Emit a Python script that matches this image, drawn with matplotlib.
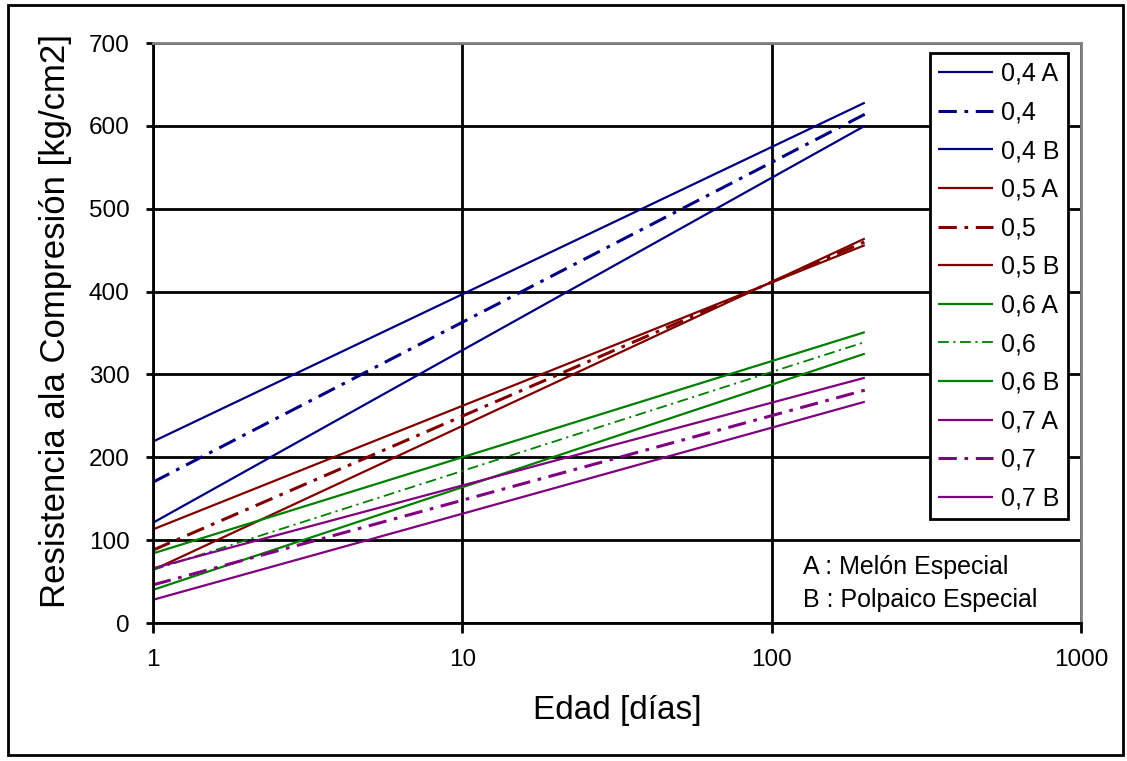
import matplotlib
matplotlib.use("Agg")
import matplotlib.pyplot as plt
from matplotlib.patches import Rectangle
from matplotlib.ticker import FixedLocator, NullLocator, FixedFormatter

plt.rcParams['font.family'] = ['Liberation Sans', 'DejaVu Sans']

# ---- data ----
edad = [1, 200]
labels = ['0,4 A', '0,4', '0,4 B', '0,5 A', '0,5', '0,5 B',
          '0,6 A', '0,6', '0,6 B', '0,7 A', '0,7', '0,7 B']
r04A = [219, 628]
r04 = [170, 614]
r04B = [121, 600]
r05A = [113, 456]
r05 = [88, 460]
r05B = [64, 464]
r06A = [84, 351]
r06 = [64, 339]
r06B = [40, 325]
r07A = [66, 296]
r07 = [46, 281]
r07B = [28, 267]
series = [r04A, r04, r04B, r05A, r05, r05B, r06A, r06, r06B, r07A, r07, r07B]

x_ticks = [1, 10, 100, 1000]
x_ticklabels = ['1', '10', '100', '1000']
y_ticks = [0, 100, 200, 300, 400, 500, 600, 700]

colors = ['#000080'] * 3 + ['#800000'] * 3 + ['#008000'] * 3 + ['#800080'] * 3
kinds = ['solid', 'dashdot', 'solid'] * 4

W, H = 1127, 761
fig = plt.figure(figsize=(W / 100, H / 100), dpi=100)
ax = fig.add_axes([153 / W, 1 - 623 / H, (1081 - 153) / W, (623 - 43) / H])

for vals, lab, c, k in zip(series, labels, colors, kinds):
    if k == 'solid':
        ax.plot(edad, vals, color=c, lw=1.6, label=lab, solid_capstyle='butt')
    else:
        lw = 1.3 if lab == '0,6' else 2.2
        ax.plot(edad, vals, color=c, lw=lw, label=lab, dashes=(6, 2.5, 1.2, 2.5))

ax.set_xscale('log')
ax.set_xlim(1, 1000)
ax.set_ylim(0, 700)
ax.xaxis.set_major_locator(FixedLocator(x_ticks))
ax.xaxis.set_major_formatter(FixedFormatter(x_ticklabels))
ax.xaxis.set_minor_locator(NullLocator())
ax.set_yticks(y_ticks)

ax.grid(True, which='major', color='black', lw=2.0)
ax.set_axisbelow(True)

for s in ['left', 'bottom']:
    ax.spines[s].set_color('black')
    ax.spines[s].set_linewidth(2.0)
for s in ['top', 'right']:
    ax.spines[s].set_color('#808080')
    ax.spines[s].set_linewidth(2.0)

ax.tick_params(axis='y', direction='out', length=5, width=2.0, pad=12, labelsize=17.5)
ax.tick_params(axis='x', direction='out', length=7, width=2.0, pad=12, labelsize=17.5)

ax.set_ylabel('Resistencia ala Compresión [kg/cm2]', fontsize=25)
ax.yaxis.set_label_coords(-0.087, 0.52)
ax.set_xlabel('Edad [días]', fontsize=24, labelpad=17)

leg = ax.legend(loc='upper right', bbox_to_anchor=(1068 / W, 1 - 53 / H),
                bbox_transform=fig.transFigure, fontsize=18, frameon=True,
                fancybox=False, edgecolor='black', framealpha=1,
                handlelength=2.2, handletextpad=0.3, labelspacing=0.585,
                borderpad=0.35, borderaxespad=0)
leg.get_frame().set_linewidth(2.0)

fig.text(803 / W, 1 - 567 / H, 'A : Melón Especial', fontsize=18, va='center', ha='left')
fig.text(803 / W, 1 - 600 / H, 'B : Polpaico Especial', fontsize=18, va='center', ha='left')

fig.patches.append(Rectangle((8 / W, 1 - 755 / H), (1123 - 8) / W, (755 - 5) / H,
                             transform=fig.transFigure, fill=False,
                             edgecolor='black', lw=2, figure=fig))

fig.savefig('out.png', dpi=100)
